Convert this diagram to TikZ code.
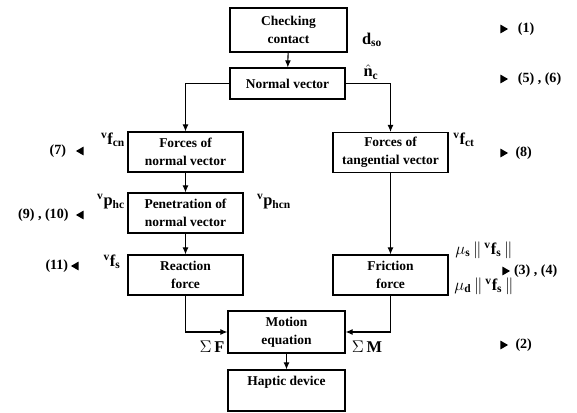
\documentclass[tikz,border=0pt]{standalone}
\usepackage{fontspec}
\setmainfont{Liberation Serif}
\usetikzlibrary{positioning,shapes.geometric,arrows.meta}
\begin{document}
\begin{tikzpicture}[>={Latex[length=6pt,width=5pt]}, x=0.03cm, y=-0.03cm, line width=0.9pt,
    bloco/.style={draw, rectangle, minimum width=3.45cm, minimum height=1.2cm, align=center, inner sep=1pt,
      font=\bfseries\fontsize{11.5}{15}\selectfont},
    rotulo/.style={inner sep=1pt, font=\fontsize{14}{16}\selectfont},
    eqref/.style={inner sep=1pt, font=\bfseries\fontsize{12}{14}\selectfont},
    setadir/.style={isosceles triangle, isosceles triangle apex angle=60, fill, inner sep=0pt, minimum height=6.5pt, minimum width=5.5pt},
    setaesq/.style={setadir, shape border rotate=180}]
\useasboundingbox (0,0) rectangle (577,412);
% Blocos principais
\node[bloco, minimum height=1.32cm, minimum width=3.51cm] (chk) at (288.5,30) {Checking\\contact};
\node[bloco, minimum height=0.93cm] (nv) at (287.5,83.5) {Normal vector};
\node[bloco] (fnv) at (185.5,152) {Forces of\\normal vector};
\node[bloco] (pen) at (185.5,213) {Penetration of\\normal vector};
\node[bloco] (rea) at (185.5,275) {Reaction\\force};
\node[bloco] (ftv) at (390.5,152.5) {Forces of\\tangential vector};
\node[bloco] (fri) at (390.5,275) {Friction\\force};
\node[bloco, minimum width=3.51cm, minimum height=1.26cm] (mot) at (286.5,332) {Motion\\equation};
\node[bloco, minimum width=3.51cm, minimum height=1.23cm] (hap) at (286.5,390.5) {Haptic device\\[2pt]};
% Ligacoes
\draw[->] (chk) -- (nv);
\draw[->] (nv.west) -| (fnv.north);
\draw[->] (nv.east) -| (ftv.north);
\draw[->] (fnv) -- (pen);
\draw[->] (pen) -- (rea);
\draw[->] (ftv) -- (fri);
\draw[->] (rea.south) |- (mot.west);
\draw[->] (fri.south) |- (mot.east);
\draw[->] (mot) -- (hap);
% Variaveis
\node[rotulo] (dso) at (372,40) {$\mathbf{d}_{\mathbf{so}}$};
\node[rotulo] (nc) at (371,72) {$\hat{\mathbf{n}}_{\mathbf{c}}$};
\node[rotulo] (fcn) at (113,140) {${}^{\mathbf{v}}\mathbf{f}_{\mathbf{cn}}$};
\node[rotulo] (phc) at (111,202) {${}^{\mathbf{v}}\mathbf{p}_{\mathbf{hc}}$};
\node[rotulo] (phcn) at (274,202) {${}^{\mathbf{v}}\mathbf{p}_{\mathbf{hcn}}$};
\node[rotulo] (fs) at (112,262) {${}^{\mathbf{v}}\mathbf{f}_{\mathbf{s}}$};
\node[rotulo] (fct) at (464,140) {${}^{\mathbf{v}}\mathbf{f}_{\mathbf{ct}}$};
\node[rotulo] (mus) at (484,250) {$\mu_{\mathbf{s}}\,\|\,{}^{\mathbf{v}}\mathbf{f}_{\mathbf{s}}\,\|$};
\node[rotulo] (mud) at (484,286) {$\mu_{\mathbf{d}}\,\|\,{}^{\mathbf{v}}\mathbf{f}_{\mathbf{s}}\,\|$};
\node[rotulo] (sf) at (212,347) {$\Sigma\,\mathbf{F}$};
\node[rotulo] (sm) at (367,347) {$\Sigma\,\mathbf{M}$};
% Referencias as equacoes
\node[setadir] (t1) at (503,29) {};
\node[eqref, right=6pt of t1] (r1) {(1)};
\node[setadir] (t56) at (503,79) {};
\node[eqref, right=6pt of t56] (r56) {(5) , (6)};
\node[setadir] (t8) at (503,153) {};
\node[eqref, right=4pt of t8] (r8) {(8)};
\node[setadir] (t34) at (505,271) {};
\node[eqref, right=1pt of t34] (r34) {(3) , (4)};
\node[setadir] (t2) at (503,345) {};
\node[eqref, right=4pt of t2] (r2) {(2)};
\node[setaesq] (t7) at (81,151) {};
\node[eqref, left=6pt of t7] (r7) {(7)};
\node[setaesq] (t910) at (81,215) {};
\node[eqref, left=4pt of t910] (r910) {(9) , (10)};
\node[setaesq] (t11) at (76,266) {};
\node[eqref, left=0pt of t11] (r11) {(11)};
\end{tikzpicture}
\end{document}
